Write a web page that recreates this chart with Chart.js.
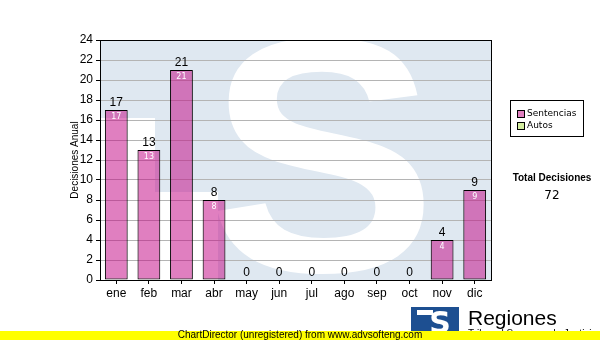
<!DOCTYPE html>
<html>
<head>
<meta charset="utf-8">
<script src="https://cdn.jsdelivr.net/npm/chart.js@4"></script>
<style>
  body { margin: 0; background: #fff; }
  canvas { display: block; }
</style>
</head>
<body>
<canvas id="chart" width="600" height="340"></canvas>
<script>
// Chart data
const months = ['ene', 'feb', 'mar', 'abr', 'may', 'jun', 'jul', 'ago', 'sep', 'oct', 'nov', 'dic'];
const sentencias = [17, 13, 21, 8, 0, 0, 0, 0, 0, 0, 4, 9];
const autos = [0, 0, 0, 0, 0, 0, 0, 0, 0, 0, 0, 0];
const yTicksMax = 24;
const yStep = 2;

const totalDecisiones = sentencias.reduce((a, b) => a + b, 0) + autos.reduce((a, b) => a + b, 0);

// Light blue watermark behind the plot area
const watermark = {
    id: 'watermark',
    beforeDraw(chart) {
        const { ctx, chartArea: a } = chart;
        ctx.save();
        ctx.beginPath();
        ctx.rect(a.left, a.top, a.right - a.left, a.bottom - a.top);
        ctx.clip();
        ctx.fillStyle = '#dfe8f1';
        ctx.fillRect(a.left, a.top, a.right - a.left, a.bottom - a.top);
        ctx.fillStyle = '#ffffff';
        ctx.fillRect(a.left, 118, 55, a.bottom - 118);
        ctx.fillRect(a.left + 55, 192, 63, a.bottom - 192);
        // big S, fitted into its box
        ctx.font = 'bold 300px "Liberation Sans"';
        const m = ctx.measureText('S');
        const gw = m.actualBoundingBoxLeft + m.actualBoundingBoxRight;
        const gh = m.actualBoundingBoxAscent + m.actualBoundingBoxDescent;
        const bx = 213, by = 36, bw = 215, bh = 240;
        ctx.translate(bx, by);
        ctx.scale(bw / gw, bh / gh);
        ctx.textBaseline = 'alphabetic';
        ctx.fillText('S', m.actualBoundingBoxLeft, m.actualBoundingBoxAscent);
        ctx.restore();
    }
};

// Value labels, frame, legend, total, logo and footer
const extras = {
    id: 'extras',
    afterDatasetsDraw(chart) {
        const { ctx, chartArea: a } = chart;
        const meta = chart.getDatasetMeta(0);
        const metaTop = chart.getDatasetMeta(1);
        ctx.save();
        ctx.textAlign = 'center';
        months.forEach((m, i) => {
            const bar = meta.data[i];
            const top = metaTop.data[i].y;
            const total = sentencias[i] + autos[i];
            ctx.fillStyle = '#000';
            ctx.font = '12px "Liberation Sans"';
            ctx.textBaseline = 'bottom';
            ctx.fillText(String(total), bar.x, top - 1);
            if (sentencias[i] > 0) {
                ctx.fillStyle = '#ffffff';
                ctx.font = '8px "DejaVu Sans"';
                ctx.textBaseline = 'top';
                ctx.fillText(String(sentencias[i]), bar.x, bar.y + 3);
            }
        });
        // plot frame
        ctx.strokeStyle = '#000';
        ctx.lineWidth = 1;
        ctx.strokeRect(Math.round(a.left) + 0.5, Math.round(a.top) + 0.5, Math.round(a.right - a.left), Math.round(a.bottom - a.top));
        ctx.restore();
    },
    afterDraw(chart) {
        const { ctx } = chart;
        ctx.save();
        // legend box
        ctx.fillStyle = '#fff';
        ctx.fillRect(510, 100, 73, 36);
        ctx.strokeStyle = '#000';
        ctx.lineWidth = 1;
        ctx.strokeRect(510.5, 100.5, 73, 36);
        chart.data.datasets.forEach((ds, i) => {
            const y = 110 + i * 12;
            ctx.fillStyle = ds.legendColor;
            ctx.fillRect(517, y, 7, 7);
            ctx.strokeStyle = '#000';
            ctx.strokeRect(517.5, y + 0.5, 7, 7);
            ctx.fillStyle = '#000';
            ctx.font = '9px "DejaVu Sans"';
            ctx.textAlign = 'left';
            ctx.textBaseline = 'middle';
            ctx.fillText(ds.label, 527, y + 4);
        });
        // total
        ctx.textAlign = 'center';
        ctx.textBaseline = 'middle';
        ctx.font = 'bold 10px "Liberation Sans"';
        ctx.fillText('Total Decisiones', 552, 178);
        ctx.font = '12px "DejaVu Sans"';
        ctx.fillText(String(totalDecisiones), 552, 196);
        // logo
        ctx.fillStyle = '#1d4f91';
        ctx.fillRect(411, 307, 48, 26);
        ctx.fillStyle = '#fff';
        ctx.font = 'bold 30px "DejaVu Sans"';
        ctx.textAlign = 'center';
        ctx.textBaseline = 'alphabetic';
        ctx.fillText('S', 440, 333);
        ctx.fillRect(417, 310, 16, 5);
        ctx.fillStyle = '#000';
        ctx.textAlign = 'left';
        ctx.font = '21px "Liberation Sans"';
        ctx.fillText('Regiones', 468, 325);
        ctx.font = '10px "Liberation Sans"';
        ctx.fillText('Tribunal Supremo de Justicia', 468, 337);
        // footer band
        ctx.fillStyle = '#ffff00';
        ctx.fillRect(0, 331, 600, 9);
        ctx.fillStyle = '#000';
        ctx.textAlign = 'center';
        ctx.textBaseline = 'middle';
        ctx.font = '10px "Liberation Sans"';
        ctx.fillText('ChartDirector (unregistered) from www.advsofteng.com', 300, 335.5);
        ctx.restore();
    }
};

new Chart(document.getElementById('chart'), {
    type: 'bar',
    data: {
        labels: months,
        datasets: [
            {
                label: 'Sentencias',
                data: sentencias,
                backgroundColor: 'rgba(193, 0, 129, 0.5)',
                legendColor: '#e080c0',
                borderColor: '#000',
                borderWidth: 1,
                borderSkipped: false,
                barPercentage: 0.7,
                categoryPercentage: 1
            },
            {
                label: 'Autos',
                data: autos,
                backgroundColor: 'rgba(170, 221, 68, 0.5)',
                legendColor: '#d4eea0',
                borderColor: '#000',
                borderWidth: 1,
                barPercentage: 0.7,
                categoryPercentage: 1
            }
        ]
    },
    options: {
        responsive: false,
        animation: false,
        layout: { padding: { top: 40, right: 109, bottom: 0, left: 0 } },
        plugins: {
            legend: { display: false },
            tooltip: { enabled: false }
        },
        scales: {
            x: {
                stacked: true,
                grid: { offset: false, drawOnChartArea: false, tickLength: 4, color: '#000' },
                border: { color: '#000' },
                ticks: { color: '#000', font: { family: 'Liberation Sans', size: 12 }, padding: 2 },
                afterFit(scale) { scale.height = 60; }
            },
            y: {
                stacked: true,
                min: 0,
                max: yTicksMax,
                ticks: { stepSize: yStep, color: '#000', font: { family: 'Liberation Sans', size: 12 }, padding: 3 },
                grid: { color: '#b4b4b4', tickColor: '#000', tickLength: 4 },
                border: { color: '#000' },
                title: {
                    display: true,
                    text: 'Decisiones Anual',
                    color: '#000',
                    font: { family: 'Liberation Sans', size: 10 },
                    padding: { top: 69, bottom: 0 }
                },
                afterFit(scale) { scale.width = 100; }
            }
        }
    },
    plugins: [watermark, extras]
});
</script>
</body>
</html>
